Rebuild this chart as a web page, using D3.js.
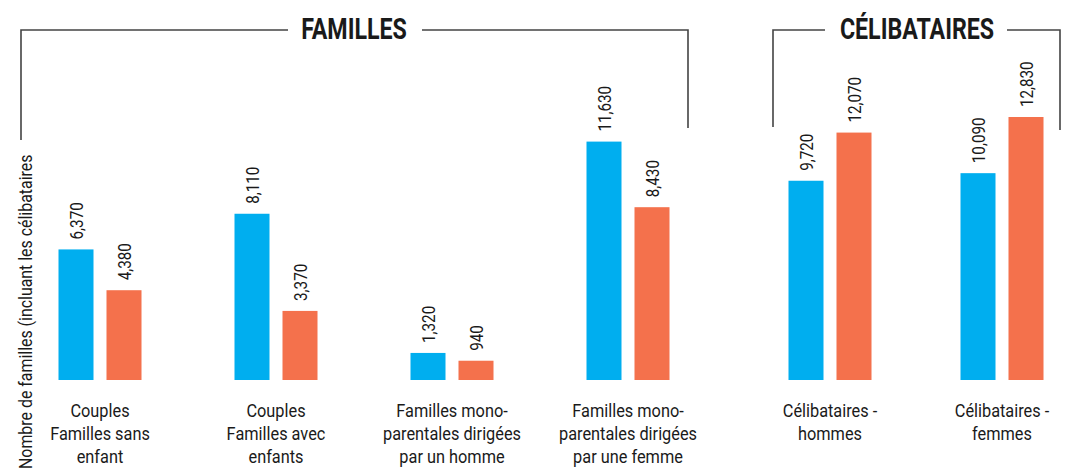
<!DOCTYPE html>
<html>
<head>
<meta charset="utf-8">
<script src="https://cdn.jsdelivr.net/npm/d3@7"></script>
<style>
  body { margin: 0; background: #fff; }
  text { font-family: "Roboto", "DejaVu Sans Condensed", sans-serif; fill: #1a1a1a; }
</style>
</head>
<body>
<svg></svg>
<script>
// data
const famillesCats = [
  ["Couples", "Familles sans", "enfant"],
  ["Couples", "Familles avec", "enfants"],
  ["Familles mono-", "parentales dirigées", "par un homme"],
  ["Familles mono-", "parentales dirigées", "par une femme"]
];
const celibCats = [
  ["Célibataires -", "hommes"],
  ["Célibataires -", "femmes"]
];
const famillesBlue = [6370, 8110, 1320, 11630];
const famillesOrange = [4380, 3370, 940, 8430];
const celibBlue = [9720, 10090];
const celibOrange = [12070, 12830];

const width = 1085;
const height = 471;
const baseline = 380;
const barW = 35;
const barGap = 13;
const squeeze = 0.86; // condensed look

const svg = d3.select("svg")
  .attr("width", width)
  .attr("height", height);

// shared value scale
const y = d3.scaleLinear()
  .domain([0, 12830])
  .range([baseline, 117]);

const fmt = d3.format(",");

// one point scale per section
const xFam = d3.scalePoint()
  .domain(d3.range(famillesCats.length))
  .range([100, 628]);
const xCel = d3.scalePoint()
  .domain(d3.range(celibCats.length))
  .range([830, 1002]);

const sections = [
  { cats: famillesCats, blue: famillesBlue, orange: famillesOrange, x: xFam },
  { cats: celibCats, blue: celibBlue, orange: celibOrange, x: xCel }
];

sections.forEach(s => {
  const rows = s.cats.map((c, i) => ({
    lines: c,
    cx: s.x(i),
    vals: [
      { v: s.blue[i], color: "#00AEEF", off: -(barGap / 2 + barW / 2) },
      { v: s.orange[i], color: "#F4714C", off: barGap / 2 + barW / 2 }
    ]
  }));

  const group = svg.append("g").selectAll(".grp")
    .data(rows).enter().append("g")
    .attr("class", "grp");

  // bars
  group.selectAll("rect")
    .data(d => d.vals.map(v => ({ ...v, cx: d.cx })))
    .enter().append("rect")
    .attr("x", d => d.cx + d.off - barW / 2)
    .attr("y", d => y(d.v))
    .attr("width", barW)
    .attr("height", d => baseline - y(d.v))
    .attr("fill", d => d.color);

  // value labels, rotated
  group.selectAll(".val")
    .data(d => d.vals.map(v => ({ ...v, cx: d.cx })))
    .enter().append("text")
    .attr("class", "val")
    .attr("transform", d => `translate(${d.cx + d.off}, ${y(d.v) - 10}) rotate(-90) scale(0.8, 1)`)
    .attr("dy", "0.35em")
    .attr("font-size", "19px")
    .text(d => fmt(d.v));

  // category labels
  group.append("text")
    .attr("transform", d => `translate(${d.cx}, 0) scale(${squeeze}, 1)`)
    .attr("text-anchor", "middle")
    .attr("font-size", "19px")
    .selectAll("tspan")
    .data(d => d.lines.map((l, k) => ({ l, k })))
    .enter().append("tspan")
    .attr("x", 0)
    .attr("y", d => 417 + d.k * 23)
    .text(d => d.l);
});

// y-axis title
svg.append("text")
  .attr("transform", `translate(32, 469) rotate(-90) scale(${squeeze}, 1)`)
  .attr("font-size", "18.5px")
  .text("Nombre de familles (incluant les célibataires");

// section brackets
const lineColor = "#444";
function bracket(x0, x1, leftBottom, rightBottom, tx0, tx1, label, cx) {
  const b = svg.append("g")
    .attr("fill", "none")
    .attr("stroke", lineColor)
    .attr("stroke-width", 1.6);
  b.append("path").attr("d", `M${x0},${leftBottom}V30H${tx0}`);
  b.append("path").attr("d", `M${tx1},30H${x1}V${rightBottom}`);
  svg.append("text")
    .attr("transform", `translate(${cx}, 39) scale(0.8, 1)`)
    .attr("text-anchor", "middle")
    .attr("font-size", "29px")
    .attr("font-weight", "bold")
    .text(label);
}
bracket(21, 688, 140, 128, 288, 422, "FAMILLES", 354);
bracket(773, 1060, 127, 130, 825, 1007, "CÉLIBATAIRES", 917);
</script>
</body>
</html>
